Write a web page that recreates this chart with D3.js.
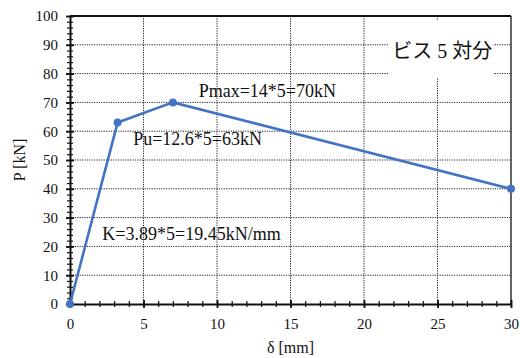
<!DOCTYPE html>
<html>
<head>
<meta charset="utf-8">
<script src="https://cdn.jsdelivr.net/npm/d3@7"></script>
<style>
  body { margin: 0; background: #fff; }
  svg text { font-family: "Liberation Serif", "Times New Roman", Times, "DejaVu Serif", serif !important; fill: #111; }
  svg text tspan.jp { font-family: "Noto Sans CJK JP", sans-serif !important; }
</style>
</head>
<body>
<div id="chart"></div>
<script>
// data
const deltaVals = [0, 3.24, 7, 30];
const loadVals = [0, 63, 70, 40];
const xTicks = [0, 5, 10, 15, 20, 25, 30];
const yTicks = [0, 10, 20, 30, 40, 50, 60, 70, 80, 90, 100];
const labels = [
  {text: "Pmax=14*5=70kN", x: 8.75, y: 71.9},
  {text: "Pu=12.6*5=63kN", x: 4.3, y: 55.2},
  {text: "K=3.89*5=19.45kN/mm", x: 2.2, y: 22.2}
];

const W = 520, H = 358;
const margin = {top: 16, right: 9, bottom: 54, left: 70},
    width = W - margin.left - margin.right,
    height = H - margin.top - margin.bottom;

const svg = d3.select("#chart")
    .append("svg")
    .attr("width", W)
    .attr("height", H);
const g = svg.append("g")
    .attr("transform", `translate(${margin.left},${margin.top})`);

const x = d3.scaleLinear().domain([0, 30]).range([0, width]);
const y = d3.scaleLinear().domain([0, 100]).range([height, 0]);

// dotted grid
g.append("g")
    .selectAll("line")
    .data(xTicks.slice(1, -1))
    .enter().append("line")
    .attr("x1", d => x(d)).attr("x2", d => x(d))
    .attr("y1", 0).attr("y2", height)
    .attr("stroke", "#222").attr("stroke-width", 1)
    .attr("stroke-dasharray", "1.2,1.2");
g.append("g")
    .selectAll("line")
    .data(yTicks.slice(1, -1))
    .enter().append("line")
    .attr("x1", 0).attr("x2", width)
    .attr("y1", d => y(d)).attr("y2", d => y(d))
    .attr("stroke", "#222").attr("stroke-width", 1)
    .attr("stroke-dasharray", "1.2,1.2");

// frame top / right
g.append("line").attr("x1", 0).attr("x2", width).attr("y1", 0).attr("y2", 0)
    .attr("stroke", "#111").attr("stroke-width", 2);
g.append("line").attr("x1", width).attr("x2", width).attr("y1", 0).attr("y2", height)
    .attr("stroke", "#111").attr("stroke-width", 1.3);

// axes: minor ticks then major ticks (crossing the axis line)
const xMinor = g.append("g")
    .attr("transform", `translate(0,${height})`)
    .call(d3.axisBottom(x).ticks(30).tickSize(3).tickFormat(""));
xMinor.select(".domain").remove();
xMinor.selectAll(".tick line").attr("stroke", "#111").attr("stroke-width", 1.2).attr("y1", -3).attr("y2", 3);

const xAxis = g.append("g")
    .attr("transform", `translate(0,${height})`)
    .call(d3.axisBottom(x).tickValues(xTicks).tickSize(4).tickPadding(10).tickSizeOuter(0));
xAxis.select(".domain").attr("stroke", "#111").attr("stroke-width", 2);
xAxis.selectAll(".tick line").attr("stroke", "#111").attr("stroke-width", 1.8).attr("y1", -4).attr("y2", 4);
xAxis.selectAll(".tick text").style("font-size", "15px");

const yMinor = g.append("g")
    .call(d3.axisLeft(y).ticks(50).tickSize(3).tickFormat(""));
yMinor.select(".domain").remove();
yMinor.selectAll(".tick line").attr("stroke", "#111").attr("stroke-width", 1.2).attr("x1", -3).attr("x2", 3);

const yAxis = g.append("g")
    .call(d3.axisLeft(y).tickValues(yTicks).tickSize(4).tickPadding(8).tickSizeOuter(0));
yAxis.select(".domain").attr("stroke", "#111").attr("stroke-width", 2);
yAxis.selectAll(".tick line").attr("stroke", "#111").attr("stroke-width", 1.8).attr("x1", -4).attr("x2", 4);
yAxis.selectAll(".tick text").style("font-size", "15px");

// curve
const pts = deltaVals.map((d, i) => [d, loadVals[i]]);
g.append("path")
    .datum(pts)
    .attr("fill", "none")
    .attr("stroke", "#4472C4")
    .attr("stroke-width", 2.6)
    .attr("d", d3.line().x(d => x(d[0])).y(d => y(d[1])));
g.selectAll("circle.pt")
    .data(pts)
    .enter().append("circle")
    .attr("class", "pt")
    .attr("cx", d => x(d[0])).attr("cy", d => y(d[1]))
    .attr("r", 4)
    .attr("fill", "#4472C4");

// annotations
g.selectAll("text.ann")
    .data(labels)
    .enter().append("text")
    .attr("class", "ann")
    .attr("x", d => x(d.x)).attr("y", d => y(d.y))
    .style("font-size", "18px")
    .text(d => d.text);

// title box with white background
const tb = g.append("g").attr("transform", `translate(${x(21.65)},${y(98.6)})`);
tb.append("rect").attr("x", 0).attr("y", 0).attr("width", 105).attr("height", 58).attr("fill", "#fff");
const tt = tb.append("text").attr("x", 4).attr("y", 38)
    .style("font-size", "20px");
tt.append("tspan").attr("class", "jp").text("ビス");
tt.append("tspan").text(" 5 ");
tt.append("tspan").attr("class", "jp").text("対分");

// axis titles
svg.append("text")
    .attr("text-anchor", "middle")
    .attr("x", margin.left + width / 2)
    .attr("y", 353)
    .style("font-size", "16px")
    .text("δ [mm]");
svg.append("text")
    .attr("text-anchor", "middle")
    .attr("transform", `translate(25,${margin.top + height / 2}) rotate(-90)`)
    .style("font-size", "16px")
    .text("P [kN]");
</script>
</body>
</html>
